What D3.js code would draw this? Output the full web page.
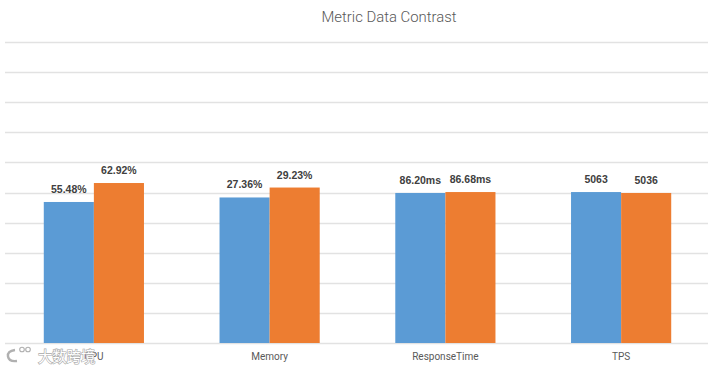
<!DOCTYPE html>
<html>
<head>
<meta charset="utf-8">
<script src="https://cdn.jsdelivr.net/npm/d3@7"></script>
<style>
  html, body { margin: 0; padding: 0; background: #fff; }
  svg { display: block; }
</style>
</head>
<body>
<svg id="chart" width="708" height="369"></svg>
<script>
// ---- data ----
const categories = ["CPU", "Memory", "ResponseTime", "TPS"];
const seriesNames = ["Before", "After"];
// bar heights as drawn (relative to each metric's pair, axis hidden)
const seriesA = [0.937, 0.967, 0.997, 1.003];
const seriesB = [1.063, 1.033, 1.003, 0.997];
const labelsA = ["55.48%", "27.36%", "86.20ms", "5063"];
const labelsB = ["62.92%", "29.23%", "86.68ms", "5036"];
const yTicks = [0, 0.2, 0.4, 0.6, 0.8, 1.0, 1.2, 1.4, 1.6, 1.8, 2.0];
const titleText = "Metric Data Contrast";
const watermarkText = "大数跨境";

const colors = ["#5B9BD5", "#ED7D31"];

const svg = d3.select("#chart");
const W = 708, H = 369;
const plot = { left: 6, right: 709, top: 42, bottom: 343 };

const x0 = d3.scaleBand().domain(categories).range([plot.left, plot.right]).paddingInner(0.43).paddingOuter(0.215);
const x1 = d3.scaleBand().domain(seriesNames).range([0, x0.bandwidth()]).padding(0);
const y = d3.scaleLinear().domain([0, 2]).range([plot.bottom, plot.top]);

// gridlines
svg.append("g").selectAll("line").data(yTicks).join("line")
  .attr("x1", 5).attr("x2", W)
  .attr("y1", d => Math.round(y(d)) + 0.5).attr("y2", d => Math.round(y(d)) + 0.5)
  .attr("stroke", "#e2e2e2").attr("stroke-width", 1.3);

// title
svg.append("text").attr("x", 389).attr("y", 21.5)
  .attr("text-anchor", "middle")
  .attr("font-family", "Roboto, 'Liberation Sans', sans-serif")
  .attr("font-weight", 300)
  .attr("font-size", 14.5)
  .attr("fill", "#595959")
  .attr("textLength", 135).attr("lengthAdjust", "spacingAndGlyphs")
  .text(titleText);

const rows = categories.map((c, i) => ({
  cat: c,
  vals: [
    { s: seriesNames[0], v: seriesA[i], label: labelsA[i] },
    { s: seriesNames[1], v: seriesB[i], label: labelsB[i] }
  ]
}));

const groups = svg.append("g").selectAll("g").data(rows).join("g")
  .attr("transform", d => `translate(${x0(d.cat)},0)`);

groups.selectAll("rect").data(d => d.vals).join("rect")
  .attr("x", d => x1(d.s))
  .attr("width", x1.bandwidth())
  .attr("y", d => y(d.v))
  .attr("height", d => y(0) - y(d.v))
  .attr("fill", (d, i) => colors[i]);

groups.selectAll("text.val").data(d => d.vals).join("text")
  .attr("class", "val")
  .attr("x", d => x1(d.s) + x1.bandwidth() / 2)
  .attr("y", d => y(d.v) - 9)
  .attr("text-anchor", "middle")
  .attr("font-family", "'Liberation Sans', Arial, sans-serif")
  .attr("font-weight", "bold")
  .attr("font-size", 10.5)
  .attr("fill", "#404040")
  .text(d => d.label);

// category labels
svg.append("g").selectAll("text").data(categories).join("text")
  .attr("x", d => x0(d) + x0.bandwidth() / 2)
  .attr("y", 359.5)
  .attr("text-anchor", "middle")
  .attr("font-family", "Roboto, 'Liberation Sans', sans-serif")
  .attr("font-size", 10)
  .attr("fill", "#595959")
  .text(d => d);

// watermark
const wm = svg.append("g");
wm.append("path")
  .attr("d", "M15,350 Q7,351 8,356.5 Q9,362 17,361")
  .attr("fill", "none").attr("stroke", "#b0b0b0").attr("stroke-width", 2.4);
wm.append("circle").attr("cx", 22).attr("cy", 349.5).attr("r", 2.3).attr("fill", "#fff").attr("stroke", "#b0b0b0").attr("stroke-width", 1.1);
wm.append("circle").attr("cx", 28).attr("cy", 349.5).attr("r", 2.3).attr("fill", "#fff").attr("stroke", "#b0b0b0").attr("stroke-width", 1.1);
wm.append("text").attr("x", 38).attr("y", 361.5)
  .attr("font-family", "'Noto Sans CJK SC', sans-serif")
  .attr("font-size", 14.3)
  .attr("fill", "#ffffff")
  .attr("stroke", "#a8a8a8").attr("stroke-width", 1.2)
  .attr("paint-order", "stroke")
  .text(watermarkText);
</script>
</body>
</html>
